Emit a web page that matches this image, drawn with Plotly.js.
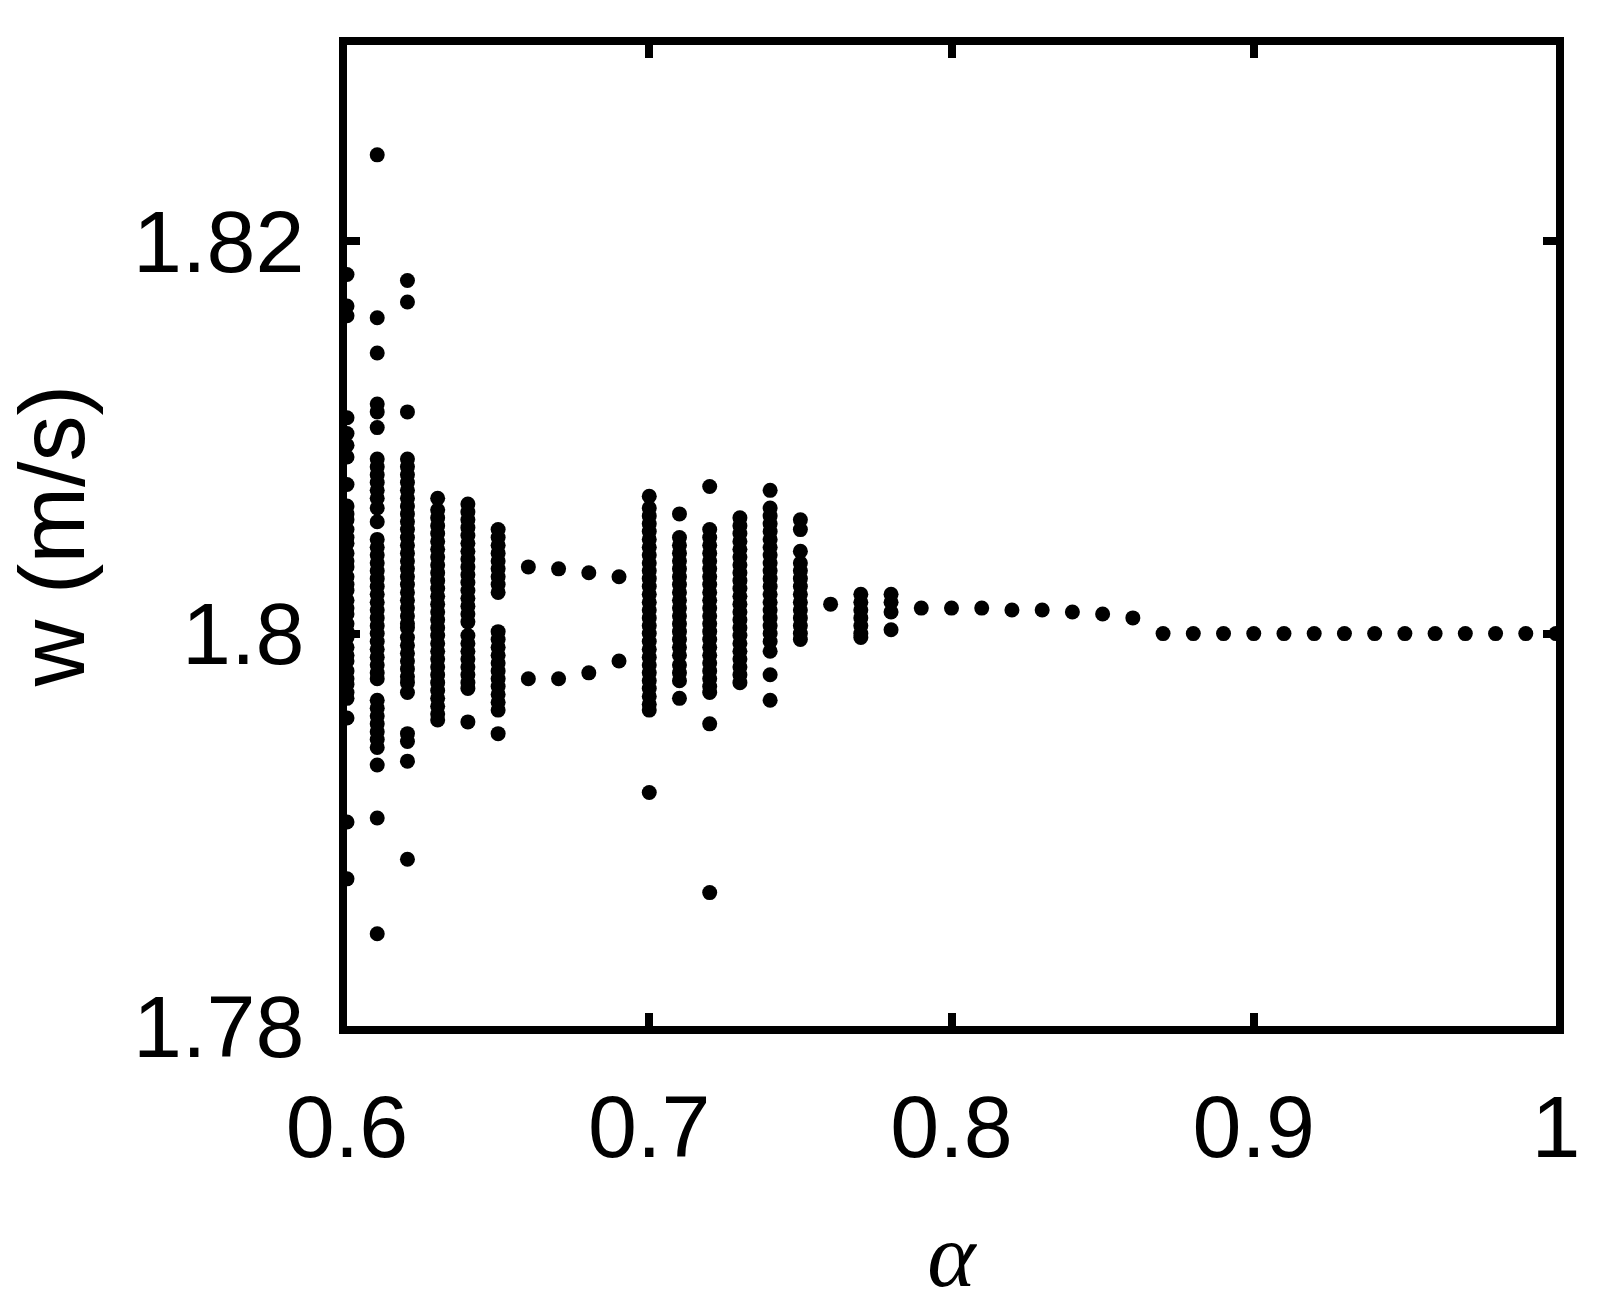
<!DOCTYPE html>
<html>
<head>
<meta charset="utf-8">
<script src="https://cdn.plot.ly/plotly-3.0.1.min.js"></script>
<style>
  html, body { margin: 0; padding: 0; background: #fff; }
  #plot { width: 1612px; height: 1314px; }
</style>
</head>
<body>
<div id="plot"></div>
<script>
// bifurcation columns: alpha value and the w samples seen at that alpha
const alphaCols = [0.60, 0.61, 0.62, 0.63, 0.64, 0.65, 0.66, 0.67, 0.68, 0.69,
                   0.70, 0.71, 0.72, 0.73, 0.74, 0.75, 0.76, 0.77, 0.78, 0.79,
                   0.80, 0.81, 0.82, 0.83, 0.84, 0.85, 0.86, 0.87, 0.88, 0.89,
                   0.90, 0.91, 0.92, 0.93, 0.94, 0.95, 0.96, 0.97, 0.98, 0.99, 1.00];

const w060 = [1.8183, 1.8167, 1.8162, 1.8110, 1.8102, 1.8096, 1.8090, 1.8076,
  1.8065, 1.8061, 1.8058, 1.8053, 1.8049, 1.8046, 1.8041, 1.8037, 1.8034, 1.8029,
  1.8025, 1.8022, 1.8017, 1.8013, 1.8010, 1.8005, 1.8001, 1.7998, 1.7993, 1.7989,
  1.7986, 1.7981, 1.7977, 1.7974, 1.7970, 1.7967, 1.7957, 1.7904, 1.7875];
const w061 = [1.8244, 1.8161, 1.8143, 1.8117, 1.8113, 1.8105,
  1.8089, 1.8085, 1.8081, 1.8077, 1.8073, 1.8069, 1.8064, 1.8057,
  1.8048, 1.8044, 1.8040, 1.8036, 1.8032, 1.8028, 1.8024, 1.8020, 1.8016, 1.8012,
  1.8008, 1.8004, 1.8000, 1.7996, 1.7992, 1.7988, 1.7984, 1.7980, 1.7977,
  1.7966, 1.7962, 1.7958, 1.7954, 1.7950, 1.7946, 1.7942, 1.7933, 1.7906, 1.7847];
const w062 = [1.8180, 1.8169, 1.8113,
  1.8089, 1.8085, 1.8081, 1.8077, 1.8073, 1.8069, 1.8065, 1.8061, 1.8057, 1.8053,
  1.8049, 1.8045, 1.8041, 1.8037, 1.8033, 1.8029, 1.8025, 1.8021, 1.8017, 1.8013,
  1.8009, 1.8005, 1.8003, 1.7998, 1.7994, 1.7990, 1.7986, 1.7982, 1.7978, 1.7975,
  1.7970, 1.7949, 1.7945, 1.7935, 1.7885];
const w063 = [1.8069, 1.8063, 1.8059, 1.8055, 1.8051, 1.8047, 1.8043, 1.8039, 1.8035,
  1.8031, 1.8027, 1.8023, 1.8019, 1.8015, 1.8011, 1.8007, 1.8003, 1.7999, 1.7995,
  1.7991, 1.7987, 1.7983, 1.7979, 1.7975, 1.7971, 1.7967, 1.7963, 1.7959, 1.7956];
const w064 = [1.8066, 1.8062, 1.8058, 1.8054, 1.8050, 1.8046, 1.8042, 1.8038, 1.8034,
  1.8030, 1.8026, 1.8022, 1.8018, 1.8014, 1.8010, 1.8006,
  1.7999, 1.7995, 1.7991, 1.7987, 1.7983, 1.7979, 1.7975, 1.7972, 1.7955];
const w065 = [1.8053, 1.8049, 1.8045, 1.8041, 1.8037, 1.8033, 1.8029, 1.8025, 1.8021,
  1.8001, 1.7997, 1.7993, 1.7989, 1.7985, 1.7981, 1.7977, 1.7973, 1.7969, 1.7965,
  1.7961, 1.7949];
const w066 = [1.8034, 1.7977];
const w067 = [1.8033, 1.7977];
const w068 = [1.8031, 1.7980];
const w069 = [1.8029, 1.7986];
const w070 = [1.8070, 1.8064, 1.8060, 1.8056, 1.8052, 1.8048, 1.8044, 1.8040, 1.8036,
  1.8032, 1.8028, 1.8024, 1.8020, 1.8016, 1.8012, 1.8008, 1.8004, 1.8000, 1.7996,
  1.7992, 1.7988, 1.7984, 1.7980, 1.7976, 1.7972, 1.7968, 1.7964, 1.7961, 1.7919];
const w071 = [1.8061, 1.8049, 1.8045, 1.8041, 1.8037, 1.8033, 1.8029, 1.8025, 1.8021,
  1.8017, 1.8013, 1.8009, 1.8005, 1.8001, 1.7997, 1.7993, 1.7989, 1.7984, 1.7980,
  1.7976, 1.7967];
const w072 = [1.8075, 1.8053, 1.8049, 1.8045, 1.8041, 1.8037, 1.8033, 1.8029, 1.8025,
  1.8021, 1.8017, 1.8013, 1.8009, 1.8005, 1.8001, 1.7997, 1.7993, 1.7989, 1.7985,
  1.7981, 1.7977, 1.7973, 1.7970, 1.7954, 1.7868];
const w073 = [1.8059, 1.8055, 1.8051, 1.8047, 1.8043, 1.8039, 1.8035, 1.8031, 1.8027,
  1.8023, 1.8019, 1.8015, 1.8011, 1.8007, 1.8003, 1.7999, 1.7995, 1.7991, 1.7987,
  1.7983, 1.7979, 1.7975];
const w074 = [1.8073, 1.8064, 1.8060, 1.8056, 1.8052, 1.8048, 1.8044, 1.8040, 1.8036,
  1.8032, 1.8028, 1.8024, 1.8020, 1.8016, 1.8012, 1.8008, 1.8004, 1.8000, 1.7996,
  1.7991, 1.7979, 1.7966];
const w075 = [1.8058, 1.8053, 1.8042, 1.8036, 1.8032, 1.8028, 1.8024, 1.8020, 1.8016,
  1.8012, 1.8008, 1.8004, 1.8000, 1.7997];
const w076 = [1.8015];
const w077 = [1.8020, 1.8016, 1.8012, 1.8008, 1.8004, 1.8000, 1.7998];
const w078 = [1.8020, 1.8016, 1.8011, 1.8002];
const w079 = [1.8013];
const w080 = [1.8013];
const w081 = [1.8013];
const w082 = [1.8012];
const w083 = [1.8012];
const w084 = [1.8011];
const w085 = [1.8010];
const w086 = [1.8008];
const w087to100 = [1.8000]; // every column from 0.87 to 1.00 settles here

const wCols = [w060, w061, w062, w063, w064, w065, w066, w067, w068, w069,
               w070, w071, w072, w073, w074, w075, w076, w077, w078, w079,
               w080, w081, w082, w083, w084, w085, w086];

const xTicks = [0.6, 0.7, 0.8, 0.9, 1];
const xTickText = ['0.6', '0.7', '0.8', '0.9', '1'];
const yTicks = [1.78, 1.8, 1.82];
const yTickText = ['1.78', '1.8', '1.82'];

let xs = [];
let ys = [];
alphaCols.forEach((a, i) => {
  const col = i < wCols.length ? wCols[i] : w087to100;
  col.forEach(w => { xs.push(a); ys.push(w); });
});

const trace = {
  x: xs,
  y: ys,
  type: 'scatter',
  mode: 'markers',
  marker: { color: 'black', size: 15 },
  cliponaxis: false,
  hoverinfo: 'x+y'
};

const axisFont = { family: 'Liberation Sans, Arial, sans-serif', size: 88, color: 'black' };

const layout = {
  width: 1612,
  height: 1314,
  paper_bgcolor: 'white',
  plot_bgcolor: 'white',
  showlegend: false,
  margin: { l: 347, r: 56, t: 45, b: 288 },
  xaxis: {
    range: [0.6, 1.0],
    tickvals: xTicks,
    ticktext: xTickText,
    ticks: 'inside',
    ticklen: 13,
    tickwidth: 8,
    tickcolor: 'black',
    showline: true,
    linewidth: 8,
    linecolor: 'black',
    mirror: 'ticks',
    showgrid: false,
    zeroline: false,
    tickfont: axisFont,
    ticklabelstandoff: 17,
    title: {
      text: '<i>α</i>',
      font: { family: 'Liberation Serif, Times New Roman, serif', size: 92, color: 'black' },
      standoff: 50
    }
  },
  yaxis: {
    range: [1.78, 1.83],
    tickvals: yTicks,
    ticktext: yTickText,
    ticks: 'inside',
    ticklen: 13,
    tickwidth: 8,
    tickcolor: 'black',
    showline: true,
    linewidth: 8,
    linecolor: 'black',
    mirror: 'ticks',
    showgrid: false,
    zeroline: false,
    tickfont: axisFont,
    ticklabelstandoff: 17,
    title: {
      text: 'w (m/s)',
      font: { family: 'Liberation Sans, Arial, sans-serif', size: 92, color: 'black' },
      standoff: 21
    }
  }
};

Plotly.newPlot('plot', [trace], layout, { displayModeBar: false, staticPlot: true });
</script>
</body>
</html>
